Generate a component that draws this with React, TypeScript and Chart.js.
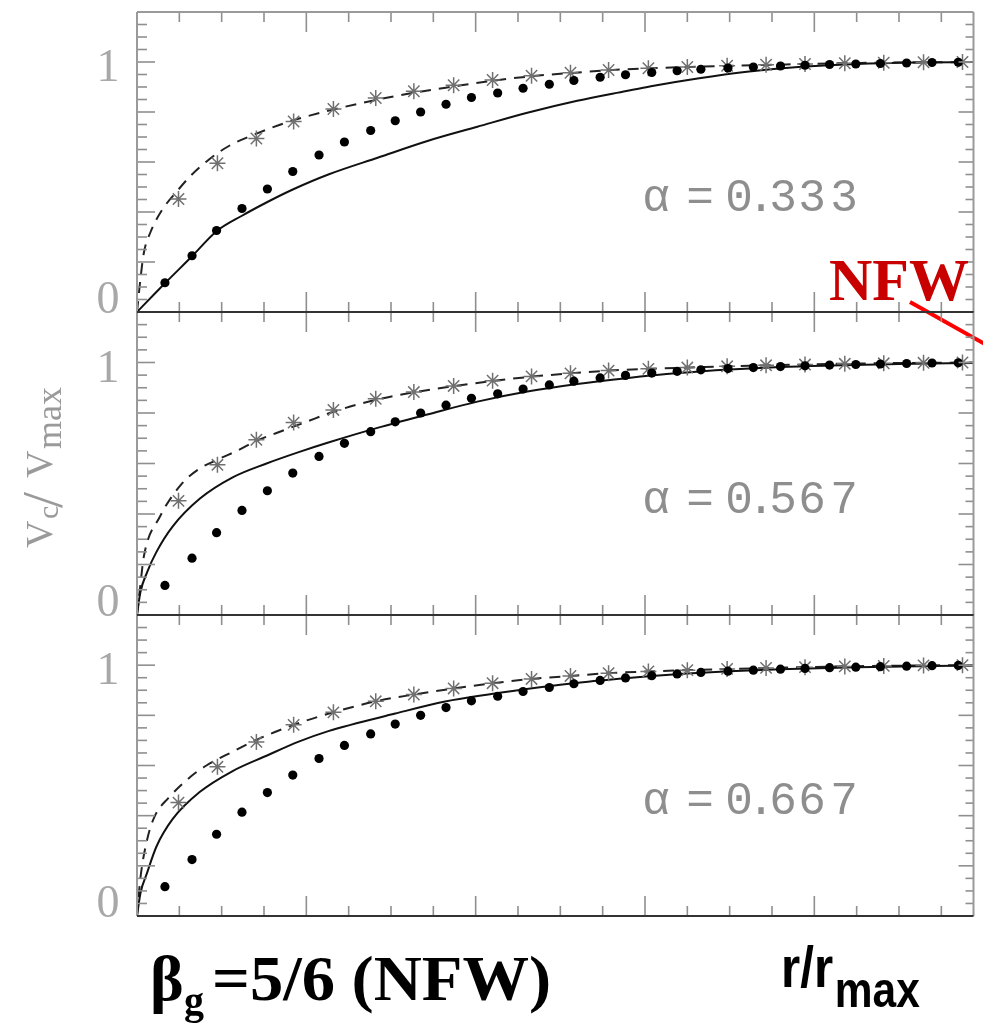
import React, { useEffect, useRef } from "react";
import { Chart, registerables } from "chart.js";

Chart.register(...registerables);

// ---------- axis ranges / tick steps ----------
const X_MAX = 0.988;
const Y_MAX = 1.2;
const TICK_STEP = 0.05;
const Y_TICK_LABELS = ["0", "1"];
const ALPHA_LABELS = ["0.333", "0.567", "0.667"];

// ---------- NFW simulation points (filled dots), same in every panel ----------
const dotR = [0.033, 0.065, 0.094, 0.124, 0.154, 0.184, 0.215, 0.245, 0.276, 0.305, 0.335, 0.365, 0.395, 0.426, 0.456, 0.487, 0.516, 0.547, 0.577, 0.608, 0.638, 0.666, 0.698, 0.728, 0.76, 0.789, 0.818, 0.849, 0.878, 0.909, 0.939, 0.97];
const dotV = [0.117, 0.225, 0.326, 0.414, 0.492, 0.562, 0.628, 0.68, 0.726, 0.765, 0.8, 0.831, 0.858, 0.876, 0.895, 0.911, 0.926, 0.939, 0.949, 0.958, 0.965, 0.971, 0.976, 0.98, 0.984, 0.987, 0.99, 0.992, 0.994, 0.996, 0.998, 0.999];

// ---------- star points, same in every panel ----------
const starR = [0.049, 0.095, 0.141, 0.185, 0.232, 0.282, 0.327, 0.374, 0.42, 0.466, 0.512, 0.557, 0.604, 0.65, 0.697, 0.743, 0.789, 0.836, 0.882, 0.929, 0.975];
const starV = [0.452, 0.595, 0.694, 0.762, 0.812, 0.856, 0.883, 0.907, 0.928, 0.945, 0.957, 0.968, 0.975, 0.98, 0.985, 0.989, 0.992, 0.995, 0.997, 0.999, 1.0];

// ---------- alpha = 0.333 ----------
const solid1R = [0, 0.033, 0.065, 0.094, 0.124, 0.154, 0.184, 0.226, 0.285, 0.344, 0.402, 0.461, 0.52, 0.578, 0.607, 0.664, 0.723, 0.781, 0.85, 0.92, 0.988];
const solid1V = [0, 0.115, 0.223, 0.323, 0.385, 0.44, 0.49, 0.55, 0.618, 0.685, 0.741, 0.797, 0.845, 0.884, 0.903, 0.935, 0.962, 0.98, 0.992, 0.998, 1.0];
const dash1R = [0, 0.004, 0.008, 0.016, 0.03, 0.049, 0.062, 0.085, 0.109, 0.14, 0.168, 0.195, 0.232, 0.282, 0.327, 0.374, 0.42, 0.466, 0.512, 0.557, 0.604, 0.65, 0.7, 0.75, 0.8, 0.85, 0.9, 0.988];
const dash1V = [0, 0.13, 0.235, 0.32, 0.41, 0.49, 0.54, 0.61, 0.665, 0.712, 0.748, 0.777, 0.81, 0.848, 0.877, 0.902, 0.925, 0.943, 0.956, 0.967, 0.975, 0.98, 0.985, 0.989, 0.993, 0.996, 0.998, 1.0];

// ---------- alpha = 0.567 ----------
const solid2R = [0, 0.004, 0.012, 0.023, 0.042, 0.074, 0.113, 0.153, 0.191, 0.226, 0.285, 0.344, 0.402, 0.461, 0.52, 0.578, 0.64, 0.7, 0.76, 0.82, 0.9, 0.988];
const solid2V = [0, 0.09, 0.17, 0.25, 0.35, 0.46, 0.545, 0.6, 0.645, 0.683, 0.742, 0.795, 0.845, 0.885, 0.915, 0.938, 0.958, 0.972, 0.982, 0.988, 0.994, 0.998];
const dash2R = [0, 0.004, 0.008, 0.027, 0.053, 0.074, 0.095, 0.121, 0.141, 0.164, 0.2, 0.232, 0.282, 0.327, 0.374, 0.42, 0.466, 0.512, 0.557, 0.604, 0.65, 0.7, 0.75, 0.8, 0.85, 0.9, 0.988];
const dash2V = [0, 0.12, 0.23, 0.389, 0.52, 0.58, 0.615, 0.655, 0.69, 0.72, 0.765, 0.805, 0.852, 0.882, 0.906, 0.927, 0.944, 0.957, 0.968, 0.975, 0.98, 0.985, 0.989, 0.993, 0.996, 0.998, 1.0];

// ---------- alpha = 0.667 ----------
const solid3R = [0, 0.004, 0.012, 0.023, 0.042, 0.074, 0.113, 0.153, 0.191, 0.226, 0.305, 0.364, 0.423, 0.458, 0.516, 0.577, 0.608, 0.65, 0.7, 0.76, 0.85, 0.988];
const solid3V = [0, 0.09, 0.173, 0.277, 0.386, 0.494, 0.578, 0.639, 0.695, 0.737, 0.807, 0.855, 0.887, 0.904, 0.928, 0.948, 0.957, 0.967, 0.976, 0.984, 0.992, 0.999];
const dash3R = [0, 0.004, 0.012, 0.021, 0.037, 0.065, 0.082, 0.113, 0.141, 0.185, 0.232, 0.282, 0.327, 0.374, 0.42, 0.466, 0.512, 0.557, 0.604, 0.65, 0.7, 0.75, 0.8, 0.85, 0.9, 0.988];
const dash3V = [0, 0.15, 0.305, 0.398, 0.47, 0.56, 0.6, 0.655, 0.702, 0.762, 0.812, 0.856, 0.883, 0.907, 0.928, 0.945, 0.957, 0.968, 0.975, 0.98, 0.985, 0.989, 0.993, 0.996, 0.998, 1.0];

const zip = (xs: number[], ys: number[]) => xs.map((x, i) => ({ x, y: ys[i] }));

type PanelSpec = {
  idx: number;
  top: number;
  bottom: number;
  sR: number[];
  sV: number[];
  dR: number[];
  dV: number[];
  alpha: string;
  alphaY: number;
};

const PANELS: PanelSpec[] = [
  { idx: 0, top: 12, bottom: 312, sR: solid1R, sV: solid1V, dR: dash1R, dV: dash1V, alpha: ALPHA_LABELS[0], alphaY: 199 },
  { idx: 1, top: 312, bottom: 615, sR: solid2R, sV: solid2V, dR: dash2R, dV: dash2V, alpha: ALPHA_LABELS[1], alphaY: 501 },
  { idx: 2, top: 615, bottom: 916, sR: solid3R, sV: solid3V, dR: dash3R, dV: dash3V, alpha: ALPHA_LABELS[2], alphaY: 802 },
];

const W = 983;
const H = 1032;

function line(ctx: CanvasRenderingContext2D, x1: number, y1: number, x2: number, y2: number) {
  ctx.beginPath();
  ctx.moveTo(x1, y1);
  ctx.lineTo(x2, y2);
  ctx.stroke();
}

function makePlugin(p: PanelSpec) {
  return {
    id: "frame" + p.idx,
    afterDraw(chart: any) {
      const ctx: CanvasRenderingContext2D = chart.ctx;
      const { left, right, top, bottom } = chart.chartArea;
      const xs = chart.scales.x;
      const ys = chart.scales.y;
      ctx.save();

      // tick marks (inward)
      ctx.strokeStyle = "#8f8f8f";
      ctx.lineWidth = 1.6;
      const nx = Math.floor(X_MAX / TICK_STEP + 1e-6);
      for (let i = 1; i <= nx; i++) {
        const px = xs.getPixelForValue(i * TICK_STEP);
        const major = i % 4 === 0;
        const len = major ? 20 : 10;
        line(ctx, px, bottom, px, bottom - len);
        line(ctx, px, top, px, top + len);
      }
      const ny = Math.round(Y_MAX / TICK_STEP);
      for (let i = 1; i < ny; i++) {
        const py = ys.getPixelForValue(i * TICK_STEP);
        const major = i % 4 === 0;
        line(ctx, left, py, left + (major ? 18 : 10), py);
        line(ctx, right, py, right - (major ? 15 : 8), py);
      }

      // frame
      ctx.strokeStyle = "#9a9a9a";
      ctx.lineWidth = 2;
      line(ctx, left, top, left, bottom);
      line(ctx, right, top, right, bottom);
      ctx.strokeStyle = p.idx === 0 ? "#9a9a9a" : "#333";
      line(ctx, left, top, right, top);
      ctx.strokeStyle = "#333";
      line(ctx, left, bottom, right, bottom);

      // y tick labels 0 and 1
      ctx.fillStyle = "#a8a8a8";
      ctx.font = '46px "Liberation Serif", serif';
      ctx.textAlign = "center";
      ctx.textBaseline = "alphabetic";
      ctx.fillText(Y_TICK_LABELS[0], 108, ys.getPixelForValue(0) + 1);
      ctx.fillText(Y_TICK_LABELS[1], 108, ys.getPixelForValue(1) + 19);

      // alpha label
      ctx.fillStyle = "#8e8e8e";
      ctx.font = '46px "Liberation Mono", monospace';
      ctx.textBaseline = "middle";
      const centers = [656, 700, 739, 761, 783, 812, 844];
      const chars = ["α", "=", ...p.alpha.split("")];
      chars.forEach((c, i) => ctx.fillText(c, centers[i], p.alphaY));

      if (p.idx === 0) {
        // red NFW annotation
        ctx.fillStyle = "#c80000";
        ctx.font = 'bold 60px "Liberation Serif", serif';
        ctx.textAlign = "left";
        ctx.textBaseline = "alphabetic";
        ctx.fillText("NFW", 829, 300);
        ctx.strokeStyle = "#ff0000";
        ctx.lineWidth = 4;
        line(ctx, 910, 302, 992, 348);
      }

      if (p.idx === 1) {
        // y-axis title V_c / V_max (rotated)
        ctx.fillStyle = "#9a9a9a";
        ctx.textAlign = "left";
        ctx.textBaseline = "alphabetic";
        ctx.translate(52, 548);
        ctx.rotate(-Math.PI / 2);
        ctx.font = '38px "Liberation Serif", serif';
        ctx.fillText("V", 0, 0);
        ctx.font = '30px "Liberation Serif", serif';
        ctx.fillText("c", 29, 6);
        ctx.font = '58px "Liberation Serif", serif';
        ctx.fillText("/", 40, 10);
        ctx.font = '38px "Liberation Serif", serif';
        ctx.fillText("V", 70, 0);
        ctx.font = '36px "Liberation Serif", serif';
        ctx.fillText("max", 99, 9);
      }

      if (p.idx === 2) {
        ctx.fillStyle = "#000";
        ctx.textAlign = "left";
        ctx.textBaseline = "alphabetic";
        ctx.font = 'bold 64px "Liberation Serif", serif';
        ctx.fillText("β", 150, 1000);
        ctx.font = 'bold 40px "Liberation Serif", serif';
        ctx.fillText("g", 184, 1014);
        ctx.save();
        ctx.translate(212, 1000);
        ctx.scale(1.04, 1);
        ctx.font = 'bold 64px "Liberation Serif", serif';
        ctx.fillText("=5/6 (NFW)", 0, 0);
        ctx.restore();

        ctx.save();
        ctx.translate(781, 987);
        ctx.scale(0.85, 1);
        ctx.font = 'bold 58px "Liberation Sans", sans-serif';
        ctx.fillText("r/r", 0, 0);
        const w = ctx.measureText("r/r").width;
        ctx.font = 'bold 50px "Liberation Sans", sans-serif';
        ctx.fillText("max", w + 2, 20);
        ctx.restore();
      }
      ctx.restore();
    },
  };
}

function PanelChart({ p }: { p: PanelSpec }) {
  const ref = useRef<HTMLCanvasElement | null>(null);
  useEffect(() => {
    if (!ref.current) return;
    const chart = new Chart(ref.current, {
      type: "line",
      data: {
        datasets: [
          {
            label: "dots",
            data: zip(dotR, dotV),
            showLine: false,
            pointRadius: 4.6,
            pointBackgroundColor: "#000",
            pointBorderWidth: 0,
            pointStyle: "circle",
            order: 0,
          },
          {
            label: "stars",
            data: zip(starR, starV),
            showLine: false,
            pointRadius: 8,
            pointStyle: "star",
            pointBorderColor: "#707070",
            pointBorderWidth: 1.5,
            pointBackgroundColor: "transparent",
            order: 1,
          },
          {
            label: "model",
            data: zip(p.sR, p.sV),
            borderColor: "#111",
            borderWidth: 2,
            pointRadius: 0,
            cubicInterpolationMode: "monotone",
            fill: false,
            order: 2,
          },
          {
            label: "dashed",
            data: zip(p.dR, p.dV),
            borderColor: "#222",
            borderWidth: 2,
            borderDash: [11, 8],
            pointRadius: 0,
            cubicInterpolationMode: "monotone",
            fill: false,
            order: 3,
          },
        ],
      },
      options: {
        responsive: false,
        animation: false,
        events: [],
        layout: { padding: { left: 137, right: W - 979, top: p.top, bottom: H - p.bottom } },
        scales: {
          x: { type: "linear", min: 0, max: X_MAX, display: false },
          y: { type: "linear", min: 0, max: Y_MAX, display: false },
        },
        plugins: { legend: { display: false }, tooltip: { enabled: false }, title: { display: false } },
      } as any,
      plugins: [makePlugin(p)],
    });
    return () => chart.destroy();
  }, [p]);
  return (
    <canvas
      ref={ref}
      width={W}
      height={H}
      style={{ position: "absolute", left: 0, top: 0, width: W, height: H }}
    />
  );
}

export default function App() {
  return (
    <div style={{ position: "absolute", left: 0, top: 0, width: W, height: H, background: "#fff", overflow: "hidden" }}>
      {PANELS.map((p) => (
        <PanelChart key={p.idx} p={p} />
      ))}
    </div>
  );
}
